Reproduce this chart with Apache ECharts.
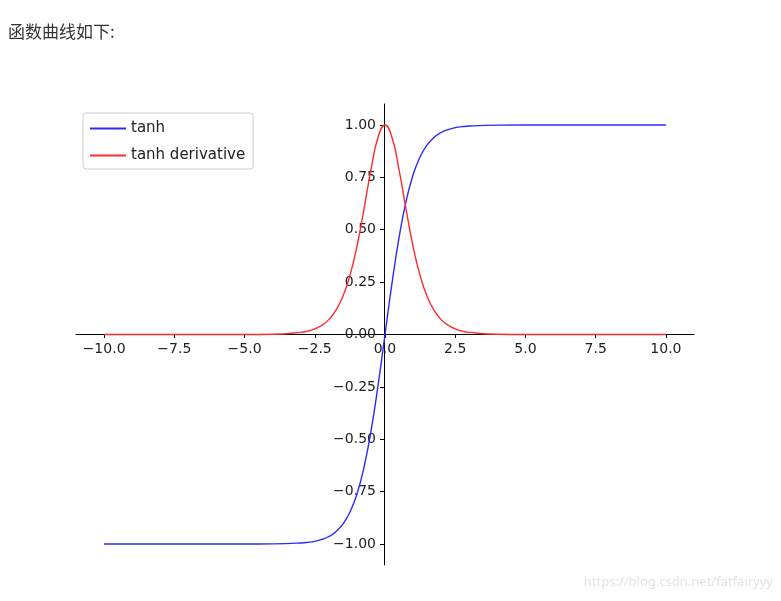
<!DOCTYPE html>
<html><head><meta charset="utf-8">
<script src="https://cdn.jsdelivr.net/npm/echarts@6/dist/echarts.min.js"></script>
<style>html,body{margin:0;padding:0;background:#fff}#c{width:781px;height:601px}</style>
</head><body><div id="c"></div>
<script>
const xs = [-10,-9,-8,-7,-6,-5,-4,-3,-2.75,-2.5,-2.25,-2,-1.75,-1.5,-1.25,-1,-0.75,-0.5,-0.25,0,0.25,0.5,0.75,1,1.25,1.5,1.75,2,2.25,2.5,2.75,3,4,5,6,7,8,9,10];
const tanhVals = [-1,-1,-1,-1,-1,-1,-0.999,-0.995,-0.992,-0.987,-0.978,-0.964,-0.941,-0.905,-0.848,-0.762,-0.635,-0.462,-0.245,0,0.245,0.462,0.635,0.762,0.848,0.905,0.941,0.964,0.978,0.987,0.992,0.995,0.999,1,1,1,1,1,1];
const derivVals = [0,0,0,0,0,0,0.001,0.010,0.016,0.027,0.044,0.071,0.115,0.181,0.281,0.420,0.597,0.786,0.940,1,0.940,0.786,0.597,0.420,0.281,0.181,0.115,0.071,0.044,0.027,0.016,0.010,0.001,0,0,0,0,0,0];
const xTicks = [-10,-7.5,-5,-2.5,0,2.5,5,7.5,10];
const yTicks = [-1,-0.75,-0.5,-0.25,0,0.25,0.5,0.75,1];
const seriesNames = ['tanh','tanh derivative'];

const chart = echarts.init(document.getElementById('c'));
const lab = {color:'#222', fontSize:14, fontFamily:'DejaVu Sans'};
const fmt = d => v => (v<0?'\u2212':'') + Math.abs(v).toFixed(d);
chart.setOption({
  animation:false,
  graphic:[
    {type:'text', left:8, top:23, style:{text:'函数曲线如下:', fontSize:17, fill:'#333', fontFamily:'Noto Sans CJK SC'}},
    {type:'text', right:8, top:576, style:{text:'https://blog.csdn.net/fatfairyyy', fontSize:13, fill:'#e2e2e2', fontFamily:'Noto Sans'}}
  ],
  legend:{left:83, top:113, orient:'vertical', itemWidth:36, itemHeight:2, itemGap:12,
    icon:'rect', borderColor:'#ccc', borderWidth:1, borderRadius:3, padding:[8,8,6,7],
    textStyle:{...lab, fontSize:15}, data:seriesNames},
  grid:{left:76, right:87, top:104, bottom:36, containLabel:false},
  xAxis:{type:'value', min:-11, max:11, splitLine:{show:false}, position:'bottom', offset:-231,
    axisLine:{onZero:false, lineStyle:{color:'#000'}},
    axisTick:{customValues:xTicks, length:4, lineStyle:{color:'#000'}},
    axisLabel:{customValues:xTicks, ...lab, margin:8, formatter:fmt(1)}},
  yAxis:{type:'value', min:-1.1, max:1.1, splitLine:{show:false}, position:'left', offset:-308,
    axisLine:{onZero:false, lineStyle:{color:'#000'}},
    axisTick:{customValues:yTicks, length:4, lineStyle:{color:'#000'}},
    axisLabel:{customValues:yTicks, ...lab, margin:8, formatter:fmt(2)}},
  series:[
    {name:seriesNames[0], type:'line', smooth:true, showSymbol:false, color:'#2a2aff', lineStyle:{width:1.4},
      data:xs.map((x,i)=>[x,tanhVals[i]])},
    {name:seriesNames[1], type:'line', smooth:true, showSymbol:false, color:'#ff2a2a', lineStyle:{width:1.4},
      data:xs.map((x,i)=>[x,derivVals[i]])}
  ]
});
</script></body></html>
